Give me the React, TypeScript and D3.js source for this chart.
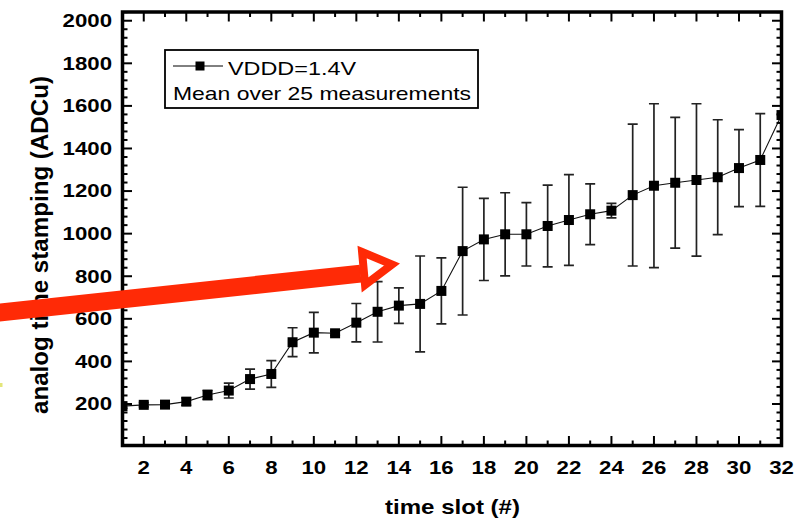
import React from "react";
import * as d3 from "d3";

const slots = [1, 2, 3, 4, 5, 6, 7, 8, 9, 10, 11, 12, 13, 14, 15, 16, 17, 18, 19, 20, 21, 22, 23, 24, 25, 26, 27, 28, 29, 30, 31, 32];
const means = [190, 196, 197, 211, 242, 263, 317, 341, 490, 535, 532, 582, 633, 662, 670, 731, 918, 973, 997, 997, 1036, 1064, 1091, 1108, 1181, 1225, 1239, 1252, 1265, 1308, 1346, 1557];
const errors = [10, 10, 10, 17, 22, 35, 47, 63, 68, 95, 10, 90, 142, 83, 225, 155, 300, 193, 195, 149, 192, 213, 143, 34, 333, 385, 307, 358, 270, 181, 218, 0];
const xTickValues = [2, 4, 6, 8, 10, 12, 14, 16, 18, 20, 22, 24, 26, 28, 30, 32];
const yTickValues = [200, 400, 600, 800, 1000, 1200, 1400, 1600, 1800, 2000];
const seriesLabel = "VDDD=1.4V";
const noteLabel = "Mean over 25 measurements";
const xTitle = "time slot (#)";
const yTitle = "analog time stamping (ADCu)";

// annotation arrow, in data coordinates [slot, value]
const arrowTail = [-4.9, 628];
const arrowBase = [12.2, 812];
const arrowHead = [[12.27, 914], [13.68, 855], [12.41, 759]];

const FONT = "'Liberation Sans', Arial, Helvetica, sans-serif";

export default function App() {
  const W = 796, H = 519;
  const left = 122.5, right = 781.5, top = 12, bottom = 445.5;
  const x = d3.scaleLinear().domain([1, 32]).range([left, right]);
  const y = d3.scaleLinear().domain([5, 2041]).range([bottom, top]);
  const data = slots.map((s, i) => ({ s, m: means[i], e: errors[i] }));
  const line = d3.line<any>().x((d) => x(d.s)).y((d) => y(d.m));
  const yMinor = d3.range(40, 2041, 40).filter((v) => v % 200 !== 0);
  const xMinor = d3.range(1, 33).filter((v) => v % 2 !== 0);
  const headPath = d3.line<number[]>().x((d) => x(d[0])).y((d) => y(d[1]))(arrowHead) + "Z";
  const MAJ = 9.5, MIN = 5;
  const sq = 10;

  return (
    <svg width={W} height={H} style={{ position: "absolute", left: 0, top: 0, background: "#fff" }} fontFamily={FONT}>
      <defs>
        <clipPath id="plot">
          <rect x={left} y={top} width={right - left} height={bottom - top} />
        </clipPath>
      </defs>
      <rect width={W} height={H} fill="#fff" />

      {/* data */}
      <g clipPath="url(#plot)">
        <path d={line(data) || ""} fill="none" stroke="#111" strokeWidth={1.1} />
        {data.map((d) =>
          d.e > 0 ? (
            <g key={"e" + d.s} stroke="#222" strokeWidth={1.7}>
              <line x1={x(d.s)} x2={x(d.s)} y1={y(d.m - d.e)} y2={y(d.m + d.e)} />
              <line x1={x(d.s) - 5} x2={x(d.s) + 5} y1={y(d.m - d.e)} y2={y(d.m - d.e)} />
              <line x1={x(d.s) - 5} x2={x(d.s) + 5} y1={y(d.m + d.e)} y2={y(d.m + d.e)} />
            </g>
          ) : null
        )}
        {data.map((d) => (
          <rect key={"m" + d.s} x={x(d.s) - sq / 2} y={y(d.m) - sq / 2} width={sq} height={sq} fill="#000" />
        ))}
      </g>

      {/* ticks */}
      <g stroke="#000" strokeWidth={2}>
        {yTickValues.map((v) => (
          <g key={"yt" + v}>
            <line x1={left} x2={left + MAJ} y1={y(v)} y2={y(v)} />
            <line x1={right} x2={right - MAJ} y1={y(v)} y2={y(v)} />
          </g>
        ))}
        {yMinor.map((v) => (
          <g key={"ym" + v}>
            <line x1={left} x2={left + MIN} y1={y(v)} y2={y(v)} />
            <line x1={right} x2={right - MIN} y1={y(v)} y2={y(v)} />
          </g>
        ))}
        {xTickValues.map((v) => (
          <g key={"xt" + v}>
            <line x1={x(v)} x2={x(v)} y1={bottom} y2={bottom - MAJ} />
            <line x1={x(v)} x2={x(v)} y1={top} y2={top + MAJ} />
          </g>
        ))}
        {xMinor.map((v) => (
          <g key={"xm" + v}>
            <line x1={x(v)} x2={x(v)} y1={bottom} y2={bottom - MIN} />
            <line x1={x(v)} x2={x(v)} y1={top} y2={top + MIN} />
          </g>
        ))}
      </g>

      {/* frame */}
      <rect x={left} y={top} width={right - left} height={bottom - top} fill="none" stroke="#000" strokeWidth={3.5} />

      {/* tick labels */}
      <g fontWeight="bold" fontSize={17.5} fill="#000">
        {yTickValues.map((v) => (
          <g key={"yl" + v} transform={`translate(${112},${y(v) + 6.3}) scale(1.27,1)`}>
            <text textAnchor="end">{v}</text>
          </g>
        ))}
        {xTickValues.map((v) => (
          <g key={"xl" + v} transform={`translate(${x(v)},${473.5}) scale(1.27,1)`}>
            <text textAnchor="middle">{v}</text>
          </g>
        ))}
      </g>

      {/* axis titles */}
      <text x={385} y={514} fontWeight="bold" fontSize={20.5} textLength={135} lengthAdjust="spacingAndGlyphs">
        {xTitle}
      </text>
      <text
        transform={`translate(${48},${245}) rotate(-90)`}
        x={-169}
        y={0}
        fontWeight="bold"
        fontSize={24}
        textLength={338}
        lengthAdjust="spacingAndGlyphs"
      >
        {yTitle}
      </text>

      {/* legend */}
      <rect x={165} y={50} width={313} height={58} fill="#fff" stroke="#000" strokeWidth={1.8} />
      <line x1={173} x2={223} y1={66} y2={66} stroke="#000" strokeWidth={1} />
      <rect x={200 - 4.5} y={66 - 4.5} width={9} height={9} fill="#000" />
      <text x={228} y={75} fontSize={19} textLength={128} lengthAdjust="spacingAndGlyphs">
        {seriesLabel}
      </text>
      <text x={173} y={100} fontSize={19} textLength={298} lengthAdjust="spacingAndGlyphs">
        {noteLabel}
      </text>

      {/* red annotation arrow */}
      <line
        x1={x(arrowTail[0])}
        y1={y(arrowTail[1])}
        x2={x(arrowBase[0])}
        y2={y(arrowBase[1])}
        stroke="#ff2a06"
        strokeWidth={18}
      />
      <path d={headPath} fill="#fff" stroke="#ff2a06" strokeWidth={8} strokeLinejoin="miter" />
      <rect x={0} y={383} width={2.5} height={4} fill="#e3e67a" />
    </svg>
  );
}
